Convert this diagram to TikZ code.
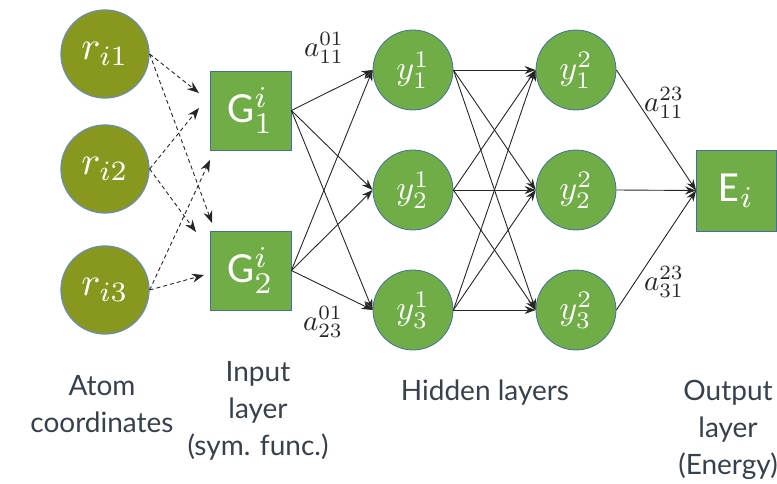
\documentclass[tikz,border=0pt]{standalone}
\usepackage{graphicx}
\usepackage{fontspec}
\setmainfont{Carlito}
\newfontfamily\labelfont{Lato}
\usetikzlibrary{arrows.meta}
\definecolor{olivefill}{RGB}{136,152,30}
\definecolor{greenfill}{RGB}{112,173,71}
\definecolor{blueborder}{RGB}{65,113,156}
\definecolor{rborder}{RGB}{110,140,168}
\definecolor{captcol}{RGB}{55,65,75}
\begin{document}
\begin{tikzpicture}[x=1pt,y=-1pt,
  rnode/.style={circle, fill=olivefill, draw=rborder, line width=1.3pt, minimum size=88pt, inner sep=0pt, text=white},
  ynode/.style={circle, fill=greenfill, draw=blueborder, line width=0.8pt, minimum size=80pt, inner sep=0pt, text=white},
  gbox/.style={rectangle, fill=greenfill, draw=blueborder, line width=0.8pt, minimum width=81pt, minimum height=79pt, inner sep=0pt, text=white},
  conn/.style={draw=black!85, line width=0.9pt, -{Stealth[length=11pt,width=8pt]}},
  dconn/.style={draw=black!85, line width=0.9pt, dashed, dash pattern=on 4pt off 3pt, -{Stealth[length=12pt,width=9pt]}},
  wlabel/.style={inner sep=0pt, text=black!85},
  captext/.style={font=\labelfont\fontsize{28}{37}\selectfont, align=center, text=captcol, inner sep=0pt}]
\useasboundingbox (0,0) rectangle (777,484);

% atom coordinate nodes
\node[rnode] (r1) at (105,54) {\scalebox{4}{$r_{i1}$}};
\node[rnode] (r2) at (105,169) {\scalebox{4}{$r_{i2}$}};
\node[rnode] (r3) at (105,290) {\scalebox{4}{$r_{i3}$}};

% input layer
\node[gbox] (G1) at (250.5,110.5) {\scalebox{4.3}{G$^{i}_{1}$}};
\node[gbox] (G2) at (250.5,270.5) {\scalebox{4.3}{G$^{i}_{2}$}};

% hidden layers
\node[ynode] (y11) at (413,70) {\scalebox{3.4}{$y^{1}_{1}$}};
\node[ynode] (y12) at (413,190) {\scalebox{3.4}{$y^{1}_{2}$}};
\node[ynode] (y13) at (413,310) {\scalebox{3.4}{$y^{1}_{3}$}};
\node[ynode] (y21) at (576,70) {\scalebox{3.4}{$y^{2}_{1}$}};
\node[ynode] (y22) at (576,190) {\scalebox{3.4}{$y^{2}_{2}$}};
\node[ynode] (y23) at (576,310) {\scalebox{3.4}{$y^{2}_{3}$}};

% output
\node[gbox, minimum width=80pt, minimum height=81pt] (E) at (736.5,190.5) {\scalebox{4.3}{E$_{i}$}};

% dashed targets
\coordinate (t11) at (199,93);
\coordinate (t21) at (199,108);
\coordinate (t31) at (210,160);
\coordinate (t12) at (212,223);
\coordinate (t22) at (196,232);
\coordinate (t32) at (204,275);

\draw[dconn] (r1.east) -- (t11);
\draw[dconn] (r1.east) -- (t12);
\draw[dconn] (r2.east) -- (t21);
\draw[dconn] (r2.east) -- (t22);
\draw[dconn] (r3.east) -- (t31);
\draw[dconn] (r3.east) -- (t32);

% input -> hidden 1
\foreach \g in {G1,G2}{
  \foreach \y in {y11,y12,y13}{
    \draw[conn] (\g.east) -- (\y.west);
  }
}
% hidden 1 -> hidden 2
\foreach \a in {y11,y12,y13}{
  \foreach \b in {y21,y22,y23}{
    \draw[conn] (\a.east) -- (\b.west);
  }
}
% hidden 2 -> output
\foreach \a in {y21,y22,y23}{
  \draw[conn] (\a.east) -- (E.west);
}

% weight labels
\node[wlabel] (w1) at (324,48) {\scalebox{2.9}{$a^{01}_{11}$}};
\node[wlabel] (w2) at (323,322) {\scalebox{2.9}{$a^{01}_{23}$}};
\node[wlabel] (w3) at (664,103) {\scalebox{2.9}{$a^{23}_{11}$}};
\node[wlabel] (w4) at (664,282) {\scalebox{2.9}{$a^{23}_{31}$}};

% captions
\node[captext] (c1) at (102,404) {Atom\\coordinates};
\node[captext] (c2) at (258,411) {Input\\layer\\(sym. func.)};
\node[captext] (c3) at (485,393) {Hidden layers};
\node[captext] (c4) at (728,430) {Output\\layer\\(Energy)};
\end{tikzpicture}
\end{document}
